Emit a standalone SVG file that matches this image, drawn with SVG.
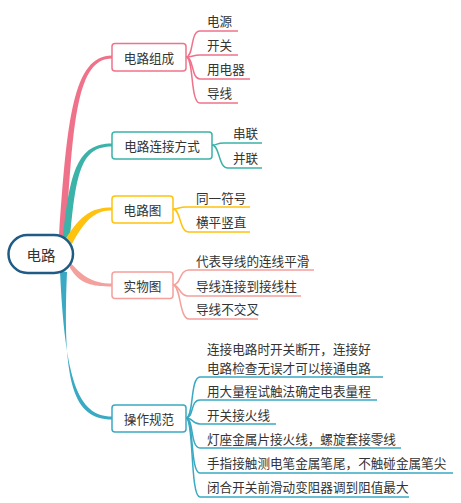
<svg xmlns="http://www.w3.org/2000/svg" width="461" height="503" viewBox="0 0 461 503">
<style>
text{font-family:"Noto Sans CJK SC","Noto Sans",sans-serif;fill:#333;dominant-baseline:central}
.t{font-size:12.6px}
.box{fill:#fff;stroke-width:1.5}
.l{fill:none;stroke-width:1.5}
</style>
<rect width="461" height="503" fill="#fff"/>
<g id="connectors">
<path d="M59,236 C67,120 73,55.5 112,55.5 L112,58.5 C77,58.5 73,120 66,237 Z" fill="#f0728a"/>
<path d="M63,237 C70,170 78,143.5 112,143.5 L112,146.5 C82,146.5 76,170 70,239 Z" fill="#3bb3a8"/>
<path d="M66,238 C82,214 92,207.5 112,207.5 L112,210.5 C96,210.5 86,218 72,244 Z" fill="#ffc20e"/>
<path d="M68,260 C82,276 92,283.5 112,283.5 L112,286.5 C92,286.5 80,284 70,268 Z" fill="#f4a09c"/>
<path d="M60,271 C65,380 78,416.5 112,416.5 L112,419.5 C74,419.5 62,385 67,272 Z" fill="#3aa9c3"/>
<g stroke="#f0728a" class="l">
<path d="M186,57 C194,57 190,31 200,31 H238"/>
<path d="M186,57 C194,57 192,55 200,55 H238"/>
<path d="M186,57 C194,57 191,79 200,79 H250"/>
<path d="M186,57 C194,57 190,103 200,103 H238"/>
</g>
<g stroke="#3bb3a8" class="l">
<path d="M212,145 C218,145 216,143 224,143 H262"/>
<path d="M212,145 C220,145 218,168 228,168 H262"/>
</g>
<g stroke="#ffc20e" class="l">
<path d="M173,209 C180,209 178,207 186,207 H250"/>
<path d="M173,209 C181,209 179,232 189,232 H250"/>
</g>
<g stroke="#f4a09c" class="l">
<path d="M173,285 C181,285 179,270 189,270 H314"/>
<path d="M173,285 C180,285 179,296 188,296 H301"/>
<path d="M173,285 C181,285 179,319 189,319 H258"/>
</g>
<g stroke="#3aa9c3" class="l">
<path d="M186,418 C194,418 190,377 200,377 H383"/>
<path d="M186,418 C194,418 190,400 200,400 H377"/>
<path d="M186,418 C194,418 191,424 200,424 H276"/>
<path d="M186,418 C194,418 190,448 200,448 H401"/>
<path d="M186,418 C194,418 190,473 200,473 H453"/>
<path d="M186,418 C194,418 190,497 200,497 H409"/>
</g>
</g>
<g id="root">
<rect x="8.5" y="235" width="64.5" height="38" rx="19" fill="#fff" stroke="#1f5c85" stroke-width="2.5"/>
<text x="41" y="254" font-size="14.5" text-anchor="middle">电路</text>
</g>
<g id="n1">
<rect class="box" x="112" y="43.5" width="74" height="27.5" rx="3" stroke="#f0728a"/>
<text class="t" x="149" y="57.5" text-anchor="middle">电路组成</text>
</g>
<g id="n1a"><text class="t" x="207" y="20">电源</text></g>
<g id="n1b"><text class="t" x="207" y="44">开关</text></g>
<g id="n1c"><text class="t" x="207" y="68">用电器</text></g>
<g id="n1d"><text class="t" x="207" y="92">导线</text></g>
<g id="n2">
<rect class="box" x="112" y="132" width="100" height="27" rx="3" stroke="#3bb3a8"/>
<text class="t" x="162" y="145.5" text-anchor="middle">电路连接方式</text>
</g>
<g id="n2a"><text class="t" x="233" y="132">串联</text></g>
<g id="n2b"><text class="t" x="233" y="157">并联</text></g>
<g id="n3">
<rect class="box" x="112" y="196" width="61" height="27" rx="3" stroke="#ffc20e"/>
<text class="t" x="142.5" y="209.5" text-anchor="middle">电路图</text>
</g>
<g id="n3a"><text class="t" x="196" y="197">同一符号</text></g>
<g id="n3b"><text class="t" x="196" y="221">横平竖直</text></g>
<g id="n4">
<rect class="box" x="112" y="272" width="61" height="26.5" rx="3" stroke="#f4a09c"/>
<text class="t" x="142.5" y="285.5" text-anchor="middle">实物图</text>
</g>
<g id="n4a"><text class="t" x="196" y="260">代表导线的连线平滑</text></g>
<g id="n4b"><text class="t" x="196" y="285">导线连接到接线柱</text></g>
<g id="n4c"><text class="t" x="196" y="308">导线不交叉</text></g>
<g id="n5">
<rect class="box" x="112" y="405" width="74" height="27" rx="3" stroke="#3aa9c3"/>
<text class="t" x="149" y="418.5" text-anchor="middle">操作规范</text>
</g>
<g id="n5a"><text class="t"><tspan x="207" y="348">连接电路时开关断开，连接好</tspan><tspan x="207" y="366.5">电路检查无误才可以接通电路</tspan></text></g>
<g id="n5b"><text class="t" x="207" y="390">用大量程试触法确定电表量程</text></g>
<g id="n5c"><text class="t" x="207" y="414">开关接火线</text></g>
<g id="n5d"><text class="t" x="207" y="438">灯座金属片接火线，螺旋套接零线</text></g>
<g id="n5e"><text class="t" x="207" y="462">手指接触测电笔金属笔尾，不触碰金属笔尖</text></g>
<g id="n5f"><text class="t" x="207" y="486">闭合开关前滑动变阻器调到阻值最大</text></g>
</svg>
